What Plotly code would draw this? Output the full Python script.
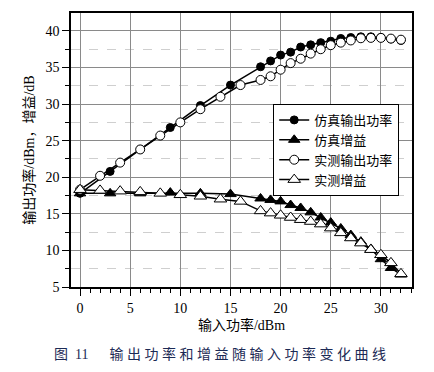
import plotly.graph_objects as go

# Simulated (仿真)
sim_x = [0, 3, 6, 9, 12, 15, 18, 19, 20, 21, 22, 23, 24, 25, 26, 27, 28, 29, 30, 31, 32]
sim_out = [17.8, 20.8, 23.8, 26.8, 29.8, 32.6, 35.1, 35.9, 36.7, 37.1, 37.8, 38.1, 38.4, 38.6,
           38.97, 39.1, 39.2, 39.2, 39.1, 38.9, 38.7]
sim_gain = [17.8, 17.8, 17.8, 17.9, 17.8, 17.7, 17.1, 16.9, 16.7, 16.2, 15.8, 15.2, 14.5, 13.8,
            13.0, 12.1, 11.2, 10.2, 8.8, 7.6, 6.7]

# Measured (实测)
meas_x = [0, 2, 4, 6, 8, 10, 12, 14, 16, 18, 19, 20, 21, 22, 23, 24, 25, 26, 27, 28, 29, 30, 31, 32]
meas_out = [18.3, 20.2, 22.0, 23.8, 25.7, 27.5, 29.3, 31.0, 32.6, 33.3, 33.8, 34.7, 35.6, 36.2,
            36.9, 37.5, 38.05, 38.4, 38.7, 39.0, 39.05, 39.05, 38.95, 38.8]
meas_gain = [18.3, 18.2, 18.1, 18.0, 17.8, 17.6, 17.4, 17.0, 16.7, 15.4, 15.1, 14.8, 14.5, 14.2,
             13.95, 13.6, 13.05, 12.4, 11.7, 11.0, 10.1, 9.4, 8.3, 6.8]

names = ["仿真输出功率", "仿真增益", "实测输出功率", "实测增益"]
x_title = "输入功率/dBm"
y_title = "输出功率/dBm，增益/dB"
caption = "图\u200211\u2002\u2002\u2002" + "\u00a0".join("输出功率和增益随输入功率变化曲线")

FONT = "Liberation Serif, Noto Sans CJK SC, serif"

fig = go.Figure()
line = dict(color="black", width=1.5)
fig.add_trace(go.Scatter(x=sim_x, y=sim_out, mode="lines+markers", name=names[0], line=line,
                         marker=dict(symbol="circle", size=8, color="black",
                                     line=dict(color="black", width=1))))
fig.add_trace(go.Scatter(x=sim_x, y=sim_gain, mode="lines+markers", name=names[1], line=line,
                         marker=dict(symbol="triangle-up", size=10, color="black",
                                     line=dict(color="black", width=1))))
fig.add_trace(go.Scatter(x=meas_x, y=meas_out, mode="lines+markers", name=names[2], line=line,
                         marker=dict(symbol="circle", size=9, color="white",
                                     line=dict(color="black", width=1))))
fig.add_trace(go.Scatter(x=meas_x, y=meas_gain, mode="lines+markers", name=names[3], line=line,
                         marker=dict(symbol="triangle-up", size=11, color="white",
                                     line=dict(color="black", width=1))))

fig.update_layout(
    width=434, height=372,
    margin=dict(l=71, r=22, t=13, b=85),
    paper_bgcolor="white", plot_bgcolor="white",
    font=dict(family=FONT, size=14, color="black"),
    showlegend=True,
    legend=dict(x=0.593, y=0.668, xanchor="left", yanchor="top",
                bgcolor="white", bordercolor="black", borderwidth=1,
                font=dict(family=FONT, size=13), tracegroupgap=0,
                itemwidth=30),
    xaxis=dict(range=[-0.9, 33.1], tick0=0, dtick=5, ticks="outside", ticklen=7,
               tickwidth=1.2, tickcolor="black",
               showline=True, linecolor="black", linewidth=1.5, mirror=True,
               showgrid=True, gridcolor="#8a8a8a", gridwidth=1, zeroline=False,
               minor=dict(dtick=1, ticks="outside", ticklen=4, tickcolor="black", showgrid=False),
               title=dict(text=x_title, font=dict(size=14), standoff=6),
               tickfont=dict(size=14)),
    yaxis=dict(range=[5, 42.45], tick0=0, dtick=5, ticks="outside", ticklen=7,
               tickwidth=1.2, tickcolor="black",
               showline=True, linecolor="black", linewidth=1.5, mirror=True,
               showgrid=True, gridcolor="#8a8a8a", gridwidth=1, zeroline=False,
               minor=dict(dtick=2.5, ticks="outside", ticklen=4, tickcolor="black",
                          showgrid=True, gridcolor="#cfcfcf", griddash="dash", gridwidth=1),
               title=dict(text=y_title, font=dict(size=14), standoff=8),
               tickfont=dict(size=14)),
    annotations=[dict(text=caption, xref="paper", yref="paper", x=-0.055, y=-0.245,
                      xanchor="left", yanchor="middle", showarrow=False,
                      font=dict(family=FONT, size=14, color="#1c2a55"))],
)

fig.write_html("out.html")
